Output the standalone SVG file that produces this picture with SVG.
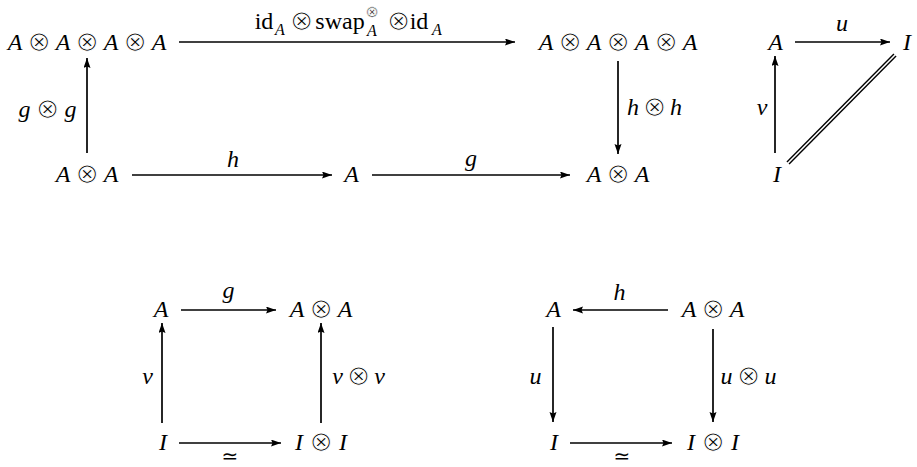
<svg xmlns="http://www.w3.org/2000/svg" width="917" height="467" viewBox="0 0 917 467">
<style>
.t{font-family:"Liberation Serif","Times New Roman",serif;font-size:24px;text-anchor:middle;fill:#000}
.i{font-style:italic}
.o{font-family:"DejaVu Sans",sans-serif;font-size:28px;font-style:normal;stroke:#fff;stroke-width:1px}
.sb{font-size:16px;font-style:italic}
.sp{font-family:"DejaVu Sans",sans-serif;font-size:16px;stroke:#fff;stroke-width:0.6px}
.eq{font-family:"DejaVu Sans",sans-serif;font-size:20px;text-anchor:middle}
.ln{stroke:#000;stroke-width:1.7;fill:none}
.ar{marker-end:url(#ah)}
</style>
<defs>
<marker id="ah" markerUnits="userSpaceOnUse" markerWidth="12" markerHeight="8" refX="10" refY="3.5" orient="auto">
<path d="M0,0 L10,3.5 L0,7 L1.5,3.5 z" fill="#000"/>
</marker>
</defs>
<rect width="917" height="467" fill="#fff"/>
<g id="connectors">
<line class="ln ar" x1="179" y1="42" x2="515" y2="42"/>
<line class="ln ar" x1="132" y1="175" x2="332" y2="175"/>
<line class="ln ar" x1="372" y1="175" x2="570" y2="175"/>
<line class="ln ar" x1="87" y1="153" x2="87" y2="58"/>
<line class="ln ar" x1="618" y1="61" x2="618" y2="154"/>
<line class="ln ar" x1="795" y1="42" x2="890" y2="42"/>
<line class="ln ar" x1="775" y1="153" x2="775" y2="56"/>
<line x1="788" y1="163" x2="895" y2="55" stroke="#000" stroke-width="4.4"/>
<line x1="787" y1="164" x2="896" y2="54" stroke="#fff" stroke-width="1.6"/>
<line class="ln ar" x1="181" y1="310" x2="276" y2="310"/>
<line class="ln ar" x1="162" y1="423" x2="162" y2="323"/>
<line class="ln ar" x1="321" y1="423" x2="321" y2="323"/>
<line class="ln ar" x1="179" y1="443" x2="281" y2="443"/>
<line class="ln ar" x1="668" y1="310" x2="573" y2="310"/>
<line class="ln ar" x1="553" y1="327" x2="553" y2="422"/>
<line class="ln ar" x1="713" y1="329" x2="713" y2="422"/>
<line class="ln ar" x1="570" y1="443" x2="672" y2="443"/>
<g id="labels">
<text class="t"><tspan x="264" y="29">id</tspan><tspan class="sb" x="280" y="35">A</tspan><tspan class="o" x="301.5" y="30">⊗</tspan><tspan x="340" y="29">swap</tspan><tspan class="sp" x="372" y="17">⊗</tspan><tspan class="sb" x="372" y="36">A</tspan><tspan class="o" x="398.5" y="30">⊗</tspan><tspan x="419" y="29">id</tspan><tspan class="sb" x="437" y="35">A</tspan></text>
<text class="t i" x="233" y="167">h</text>
<text class="t i" x="471" y="166">g</text>
<text class="t"><tspan class="i" x="24.5" y="117">g</tspan><tspan class="o" x="47.5" y="118">⊗</tspan><tspan class="i" x="70.5" y="117">g</tspan></text>
<text class="t"><tspan class="i" x="633" y="115">h</tspan><tspan class="o" x="654.5" y="116">⊗</tspan><tspan class="i" x="676" y="115">h</tspan></text>
<text class="t i" x="842" y="31">u</text>
<text class="t i" x="762" y="115">v</text>
<text class="t i" x="228.5" y="298">g</text>
<text class="t i" x="147.5" y="384">v</text>
<text class="t"><tspan class="i" x="337.5" y="384">v</tspan><tspan class="o" x="358.5" y="385">⊗</tspan><tspan class="i" x="379.5" y="384">v</tspan></text>
<text class="eq" x="230" y="463">≃</text>
<text class="t i" x="619.5" y="300">h</text>
<text class="t i" x="535.5" y="384">u</text>
<text class="t"><tspan class="i" x="726.5" y="384">u</tspan><tspan class="o" x="748.5" y="385">⊗</tspan><tspan class="i" x="770.5" y="384">u</tspan></text>
<text class="eq" x="622" y="463">≃</text>
</g>
</g>
<g id="n_tl">
<text class="t"><tspan class="i" x="15" y="50">A</tspan><tspan class="o" x="39" y="51">⊗</tspan><tspan class="i" x="63" y="50">A</tspan><tspan class="o" x="87" y="51">⊗</tspan><tspan class="i" x="111" y="50">A</tspan><tspan class="o" x="135" y="51">⊗</tspan><tspan class="i" x="159" y="50">A</tspan></text>
</g>
<g id="n_tr">
<text class="t"><tspan class="i" x="546" y="50">A</tspan><tspan class="o" x="570" y="51">⊗</tspan><tspan class="i" x="594" y="50">A</tspan><tspan class="o" x="618" y="51">⊗</tspan><tspan class="i" x="642" y="50">A</tspan><tspan class="o" x="666" y="51">⊗</tspan><tspan class="i" x="690" y="50">A</tspan></text>
</g>
<g id="n_bl">
<text class="t"><tspan class="i" x="63" y="182">A</tspan><tspan class="o" x="87" y="183">⊗</tspan><tspan class="i" x="111" y="182">A</tspan></text>
</g>
<g id="n_bm"><text class="t i" x="351.5" y="182">A</text></g>
<g id="n_br">
<text class="t"><tspan class="i" x="594" y="182">A</tspan><tspan class="o" x="618" y="183">⊗</tspan><tspan class="i" x="642" y="182">A</tspan></text>
</g>
<g id="tri_A"><text class="t i" x="775.5" y="50">A</text></g>
<g id="tri_I1"><text class="t i" x="907" y="50">I</text></g>
<g id="tri_I2"><text class="t i" x="777" y="182">I</text></g>
<g id="s1_A"><text class="t i" x="161" y="317">A</text></g>
<g id="s1_AA">
<text class="t"><tspan class="i" x="297" y="317">A</tspan><tspan class="o" x="321" y="318">⊗</tspan><tspan class="i" x="345" y="317">A</tspan></text>
</g>
<g id="s1_I"><text class="t i" x="163" y="450">I</text></g>
<g id="s1_II">
<text class="t"><tspan class="i" x="299" y="450">I</tspan><tspan class="o" x="321" y="451">⊗</tspan><tspan class="i" x="343" y="450">I</tspan></text>
</g>
<g id="s2_A"><text class="t i" x="553.5" y="317">A</text></g>
<g id="s2_AA">
<text class="t"><tspan class="i" x="689" y="317">A</tspan><tspan class="o" x="713" y="318">⊗</tspan><tspan class="i" x="737" y="317">A</tspan></text>
</g>
<g id="s2_I"><text class="t i" x="554" y="450">I</text></g>
<g id="s2_II">
<text class="t"><tspan class="i" x="691" y="450">I</tspan><tspan class="o" x="713" y="451">⊗</tspan><tspan class="i" x="735" y="450">I</tspan></text>
</g>
</svg>
